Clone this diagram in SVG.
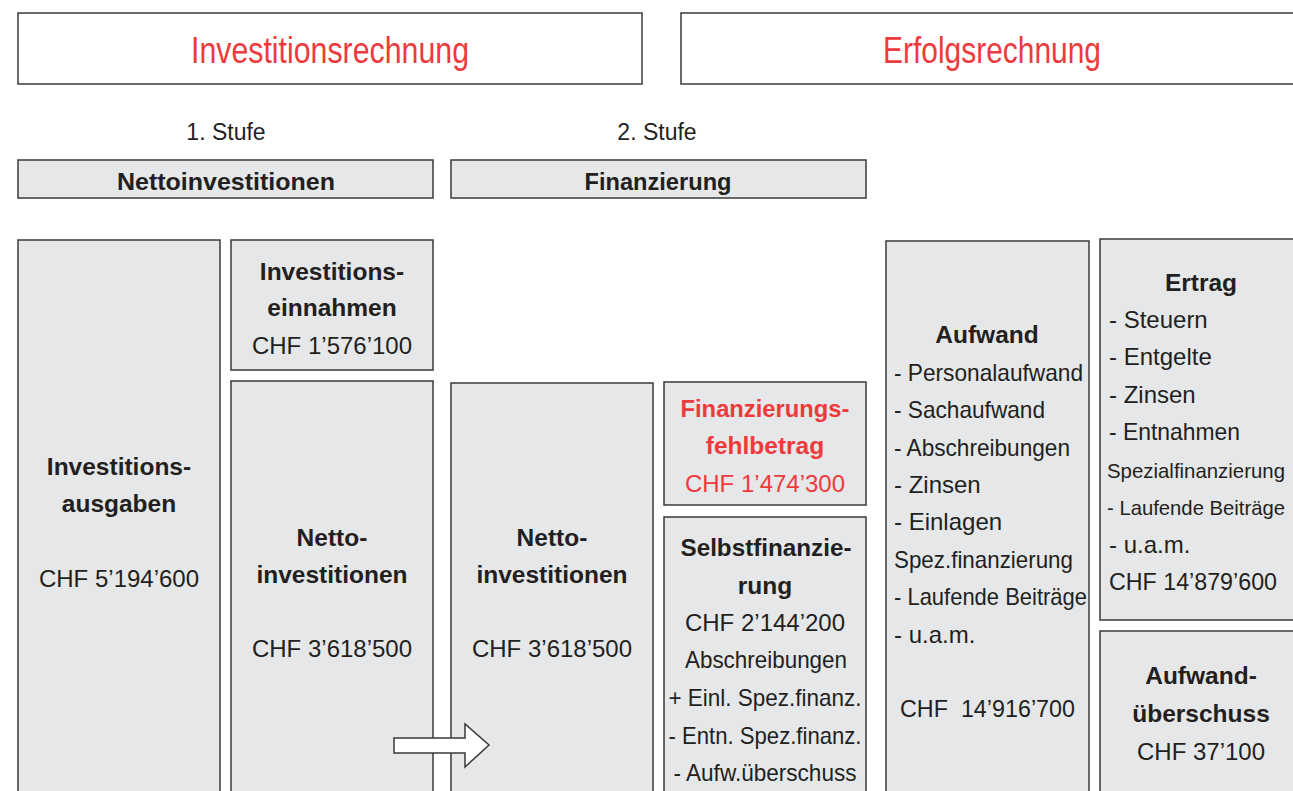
<svg xmlns="http://www.w3.org/2000/svg" width="1293" height="791" viewBox="0 0 1293 791">
<style>
.box{fill:#e6e7e8;stroke:#3a3a3a;stroke-width:1.5}
.frame{fill:#ffffff;stroke:#3a3a3a;stroke-width:1.5}
text{font-family:"Liberation Sans",Arial,sans-serif;fill:#231f20}
.t{font-size:36px;fill:#ee3a3c;text-anchor:middle}
.s{font-size:23px;text-anchor:middle}
.b{font-size:24.5px;font-weight:bold;text-anchor:middle}
.hb{font-size:24px;font-weight:bold;text-anchor:middle}
.r{font-size:24px;text-anchor:middle}
.l{font-size:24px;text-anchor:start}
.ls{font-size:21px;text-anchor:start}
.red{fill:#ee3a3c}
</style>
<rect width="1293" height="791" fill="#ffffff"/>
<g id="title-invest">
<rect class="frame" x="18" y="13" width="624" height="71"/>
<text class="t" x="330" y="63" textLength="278" lengthAdjust="spacingAndGlyphs">Investitionsrechnung</text>
</g>
<g id="title-erfolg">
<rect class="frame" x="681" y="13" width="630" height="71"/>
<text class="t" x="992" y="63" textLength="218" lengthAdjust="spacingAndGlyphs">Erfolgsrechnung</text>
</g>
<g id="stufe1"><text class="s" x="226" y="140">1. Stufe</text></g>
<g id="stufe2"><text class="s" x="657" y="140">2. Stufe</text></g>
<g id="hdr-netto">
<rect class="box" x="18" y="160" width="415" height="38"/>
<text class="hb" x="226" y="190" textLength="218" lengthAdjust="spacingAndGlyphs">Nettoinvestitionen</text>
</g>
<g id="hdr-fin">
<rect class="box" x="451" y="160" width="415" height="38"/>
<text class="hb" x="658" y="190" textLength="147" lengthAdjust="spacingAndGlyphs">Finanzierung</text>
</g>
<g id="ausgaben">
<rect class="box" x="18" y="240" width="202" height="570"/>
<text class="b" x="119" y="475">Investitions-</text>
<text class="b" x="119" y="512">ausgaben</text>
<text class="r" x="119" y="587">CHF 5’194’600</text>
</g>
<g id="einnahmen">
<rect class="box" x="231" y="240" width="202" height="130"/>
<text class="b" x="332" y="280">Investitions-</text>
<text class="b" x="332" y="316">einnahmen</text>
<text class="r" x="332" y="354">CHF 1’576’100</text>
</g>
<g id="netto1">
<rect class="box" x="231" y="381" width="202" height="430"/>
<text class="b" x="332" y="546">Netto-</text>
<text class="b" x="332" y="583">investitionen</text>
<text class="r" x="332" y="657">CHF 3’618’500</text>
</g>
<g id="netto2">
<rect class="box" x="451" y="383" width="202" height="430"/>
<text class="b" x="552" y="546">Netto-</text>
<text class="b" x="552" y="583">investitionen</text>
<text class="r" x="552" y="657">CHF 3’618’500</text>
</g>
<g id="fehlbetrag">
<rect class="box" x="664" y="382" width="202" height="123"/>
<text class="b red" x="765" y="417" textLength="169" lengthAdjust="spacingAndGlyphs">Finanzierungs-</text>
<text class="b red" x="765" y="454">fehlbetrag</text>
<text class="r red" x="765" y="492">CHF 1’474’300</text>
</g>
<g id="selbst">
<rect class="box" x="664" y="517" width="202" height="300"/>
<text class="b" x="766" y="556" textLength="171" lengthAdjust="spacingAndGlyphs">Selbstfinanzie-</text>
<text class="b" x="765" y="594">rung</text>
<text class="r" x="765" y="631">CHF 2’144’200</text>
<text class="r" x="766" y="668" textLength="162" lengthAdjust="spacingAndGlyphs">Abschreibungen</text>
<text class="r" x="765" y="706" textLength="193" lengthAdjust="spacingAndGlyphs">+ Einl. Spez.finanz.</text>
<text class="r" x="765" y="744" textLength="193" lengthAdjust="spacingAndGlyphs">- Entn. Spez.finanz.</text>
<text class="r" x="765" y="781" textLength="183" lengthAdjust="spacingAndGlyphs">- Aufw.überschuss</text>
</g>
<g id="aufwand">
<rect class="box" x="886" y="241" width="203" height="570"/>
<text class="b" x="987" y="343">Aufwand</text>
<text class="l" x="894" y="381" textLength="189" lengthAdjust="spacingAndGlyphs">- Personalaufwand</text>
<text class="l" x="894" y="418" textLength="151" lengthAdjust="spacingAndGlyphs">- Sachaufwand</text>
<text class="l" x="894" y="456" textLength="176" lengthAdjust="spacingAndGlyphs">- Abschreibungen</text>
<text class="l" x="894" y="493">- Zinsen</text>
<text class="l" x="894" y="530">- Einlagen</text>
<text class="l" x="894" y="568" textLength="179" lengthAdjust="spacingAndGlyphs">Spez.finanzierung</text>
<text class="l" x="894" y="605" textLength="193" lengthAdjust="spacingAndGlyphs">- Laufende Beiträge</text>
<text class="l" x="894" y="643">- u.a.m.</text>
<text class="l" x="900" y="717" xml:space="preserve" textLength="175" lengthAdjust="spacingAndGlyphs">CHF  14’916’700</text>
</g>
<g id="ertrag">
<rect class="box" x="1100" y="239" width="220" height="381"/>
<text class="b" x="1201" y="291">Ertrag</text>
<text class="l" x="1109" y="328">- Steuern</text>
<text class="l" x="1109" y="365">- Entgelte</text>
<text class="l" x="1109" y="403">- Zinsen</text>
<text class="l" x="1109" y="440" textLength="131" lengthAdjust="spacingAndGlyphs">- Entnahmen</text>
<text class="ls" x="1107" y="478" textLength="178" lengthAdjust="spacingAndGlyphs">Spezialfinanzierung</text>
<text class="ls" x="1107" y="515" textLength="178" lengthAdjust="spacingAndGlyphs">- Laufende Beiträge</text>
<text class="l" x="1109" y="553">- u.a.m.</text>
<text class="l" x="1109" y="590" textLength="168" lengthAdjust="spacingAndGlyphs">CHF 14’879’600</text>
</g>
<g id="ueberschuss">
<rect class="box" x="1100" y="631" width="220" height="180"/>
<text class="b" x="1201" y="684">Aufwand-</text>
<text class="b" x="1201" y="722">überschuss</text>
<text class="r" x="1201" y="760">CHF 37’100</text>
</g>
<g id="connectors">
<path d="M394,738 H465 V724 L489,745 L465,767 V753 H394 Z" fill="#ffffff" stroke="#3a3a3a" stroke-width="1.5"/>
</g>
</svg>
